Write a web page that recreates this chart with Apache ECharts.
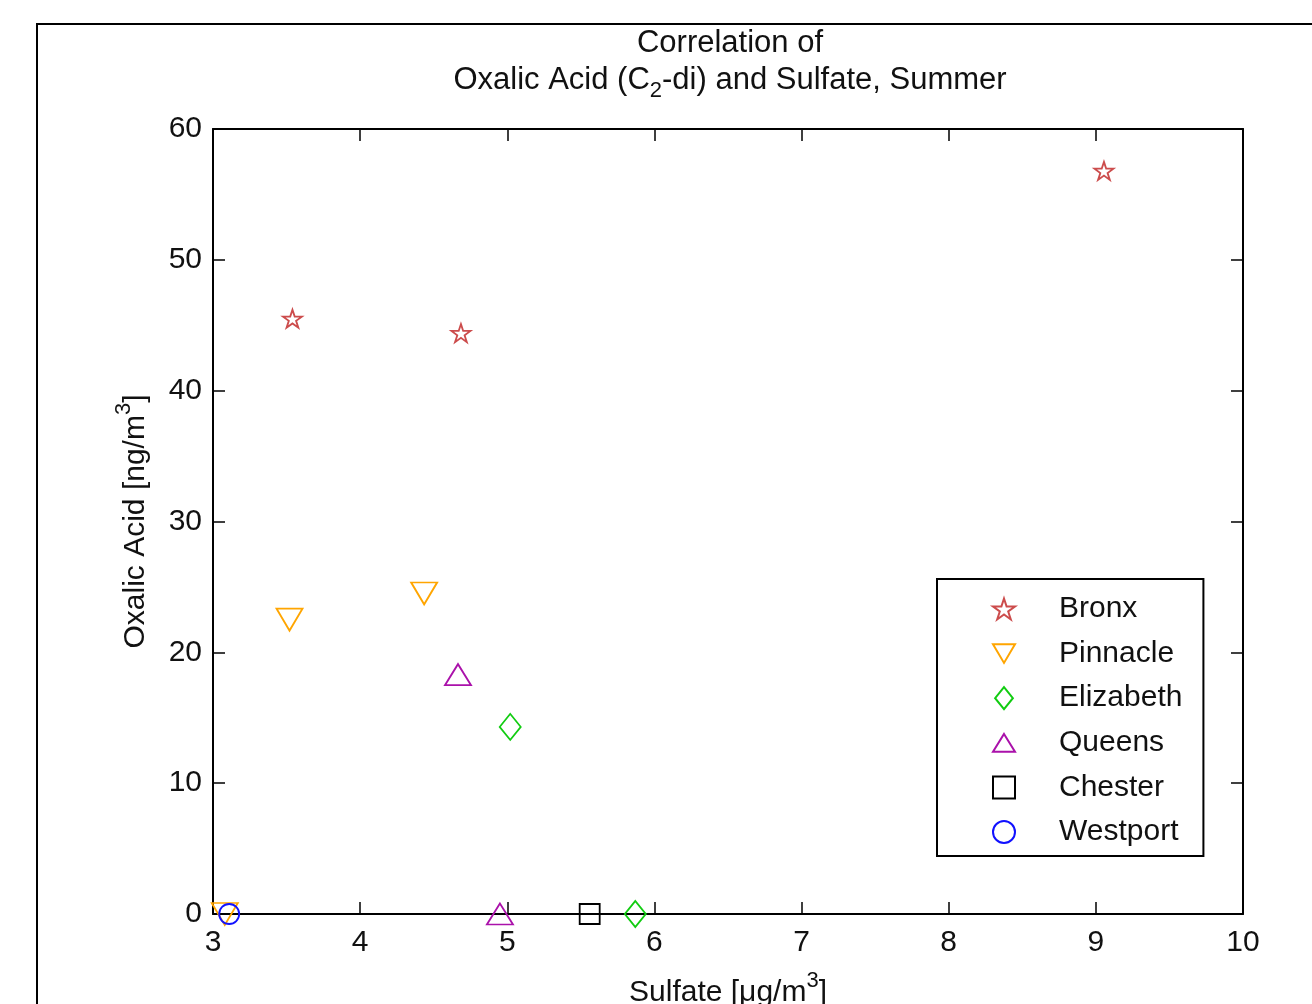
<!DOCTYPE html>
<html>
<head>
<meta charset="utf-8">
<script src="https://cdn.jsdelivr.net/npm/echarts@6/dist/echarts.min.js"></script>
<style>
html,body{margin:0;padding:0;background:#fff;}
#chart{width:1312px;height:1004px;}
</style>
</head>
<body>
<div id="chart"></div>
<script>
// ---- data ----
const seriesNames = ['Bronx', 'Pinnacle', 'Elizabeth', 'Queens', 'Chester', 'Westport'];
const bronxX = [3.54, 4.685, 9.055];
const bronxY = [45.5, 44.4, 56.8];
const pinnacleX = [3.52, 4.435, 3.08];
const pinnacleY = [22.5, 24.5, 0];
const elizabethX = [5.02, 5.87];
const elizabethY = [14.3, 0];
const queensX = [4.665, 4.95];
const queensY = [18.3, 0];
const chesterX = [5.56];
const chesterY = [0];
const westportX = [3.11];
const westportY = [0];
const xTicks = [3, 4, 5, 6, 7, 8, 9, 10];
const yTicks = [0, 10, 20, 30, 40, 50, 60];

function pairs(xs, ys) { return xs.map((x, i) => [x, ys[i]]); }

const FONT = 'Liberation Sans';
const STAR = 'path://M100,0L122.45,69.1L195.1,69.1L136.3,111.8L158.8,180.9L100,138.2L41.2,180.9L63.7,111.8L4.9,69.1L77.55,69.1Z';
const TRI_DOWN = 'path://M0,0L26,0L13,22Z';
const TRI_UP = 'path://M13,0L26,21L0,21Z';
const DIAMOND = 'path://M10.5,0L21,13L10.5,26L0,13Z';
const SQUARE = 'path://M0,0L20,0L20,20L0,20Z';

const styles = [
  { name: 'Bronx', data: pairs(bronxX, bronxY), color: '#cc4c4c', symbol: STAR, size: [19, 18] },
  { name: 'Pinnacle', data: pairs(pinnacleX, pinnacleY), color: '#ffa500', symbol: TRI_DOWN, size: [26, 22] },
  { name: 'Elizabeth', data: pairs(elizabethX, elizabethY), color: '#11cc11', symbol: DIAMOND, size: [21, 26] },
  { name: 'Queens', data: pairs(queensX, queensY), color: '#aa11aa', symbol: TRI_UP, size: [26, 21] },
  { name: 'Chester', data: pairs(chesterX, chesterY), color: '#000000', symbol: SQUARE, size: [20, 20] },
  { name: 'Westport', data: pairs(westportX, westportY), color: '#1111ff', symbol: 'circle', size: [20, 20] }
];

const chart = echarts.init(document.getElementById('chart'), null, { renderer: 'canvas' });

const axisCommon = {
  axisLine: { show: true, onZero: false, lineStyle: { color: '#000', width: 2 } },
  axisTick: { show: true, inside: true, length: 12, lineStyle: { color: '#000', width: 1.5 } },
  splitLine: { show: false }
};

const option = {
  backgroundColor: '#fff',
  animation: false,
  textStyle: { fontFamily: FONT },
  title: {
    text: '{a|Correlation of}\n{a|Oxalic Acid (C}{sub|2}{a|-di) and Sulfate, Summer}',
    left: 725, top: 20, textAlign: 'center',
    textStyle: {
      fontWeight: 'normal',
      rich: {
        a: { fontFamily: FONT, fontSize: 31, fontWeight: 'normal', color: '#111', lineHeight: 37 },
        sub: { fontFamily: FONT, fontSize: 22, fontWeight: 'normal', color: '#111', lineHeight: 37, padding: [20, 0, 0, 0] }
      }
    }
  },
  grid: { left: 213, top: 129, right: 69, bottom: 90, containLabel: false, outerBoundsMode: 'none' },
  xAxis: [
    Object.assign({}, axisCommon, {
      type: 'value', min: 3, max: 10, interval: 1, position: 'bottom',
      axisLabel: { show: true, fontFamily: FONT, fontSize: 30, color: '#111', margin: 14,
        formatter: v => xTicks.includes(v) ? String(v) : '' },
      name: '{a|Sulfate [μg/m}{sup|3}{a|]}',
      nameLocation: 'middle', nameGap: 56,
      nameTextStyle: { rich: {
        a: { fontFamily: FONT, fontSize: 30, color: '#111' },
        sup: { fontFamily: FONT, fontSize: 22, color: '#111', padding: [0, 0, 24, 0] }
      } }
    }),
    Object.assign({}, axisCommon, {
      type: 'value', min: 3, max: 10, interval: 1, position: 'top',
      axisLabel: { show: false }
    })
  ],
  yAxis: [
    Object.assign({}, axisCommon, {
      type: 'value', min: 0, max: 60, interval: 10, position: 'left',
      axisLabel: { show: true, fontFamily: FONT, fontSize: 30, color: '#111', margin: 11,
        formatter: v => yTicks.includes(v) ? String(v) : '' },
      name: '{a|Oxalic Acid [ng/m}{sup|3}{a|]}',
      nameLocation: 'middle', nameGap: 54, nameRotate: 90,
      nameTextStyle: { rich: {
        a: { fontFamily: FONT, fontSize: 30, color: '#111' },
        sup: { fontFamily: FONT, fontSize: 22, color: '#111', padding: [0, 0, 24, 0] }
      } }
    }),
    Object.assign({}, axisCommon, {
      type: 'value', min: 0, max: 60, interval: 10, position: 'right',
      axisLabel: { show: false }
    })
  ],
  legend: {
    orient: 'vertical',
    left: 937, top: 579,
    padding: [15, 21, 9, 55],
    itemWidth: 22, itemHeight: 22, itemGap: 14.6,
    borderColor: '#000', borderWidth: 2, backgroundColor: '#fff',
    textStyle: { fontFamily: FONT, fontSize: 30, color: '#111', lineHeight: 30, padding: [0, 0, 0, 39] },
    data: seriesNames
  },
  graphic: [
    { type: 'rect', z: -10, silent: true, shape: { x: 37, y: 24, width: 1400, height: 1100 },
      style: { fill: 'none', stroke: '#000', lineWidth: 2 } }
  ],
  series: styles.map(s => ({
    name: s.name,
    type: 'scatter',
    xAxisIndex: 0, yAxisIndex: 0,
    data: s.data,
    symbol: s.symbol,
    symbolSize: s.size,
    clip: false,
    z: 5,
    itemStyle: { color: 'rgba(0,0,0,0)', borderColor: s.color, borderWidth: 1.8, opacity: 1 },
    emphasis: { disabled: true }
  }))
};

chart.setOption(option);
</script>
</body>
</html>
